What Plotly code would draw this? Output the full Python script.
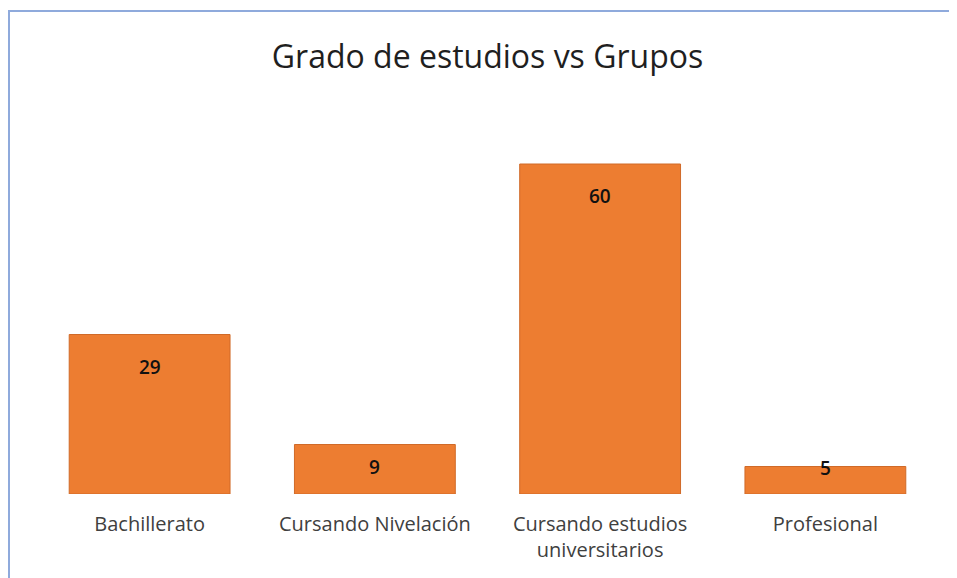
import plotly.graph_objects as go

# Datos del grafico
categorias = ["Bachillerato", "Cursando Nivelación", "Cursando estudios<br>universitarios", "Profesional"]
valores = [29, 9, 60, 5]

# la pagina tiene 8 px de margen en el body, se compensa aqui
W, H = 965, 578
ML, MR, MT, MB = 29, 35, 101, 92
pw, ph = W - ML - MR, H - MT - MB

# desplazamiento de las etiquetas de datos (px bajo el extremo de la barra)
desplaz = [-32, -22, -32, -1]

fig = go.Figure(go.Bar(
    x=categorias, y=valores,
    marker=dict(color="#ED7D31", line=dict(color="#D06A28", width=1)),
    hoverinfo="x+y",
))

for c, v, d in zip(categorias, valores, desplaz):
    fig.add_annotation(x=c, y=v, text=str(v), showarrow=False, yshift=d,
                       font=dict(family="Open Sans", size=19, weight=600, color="#111111"))

# borde del area del grafico (solo visible arriba y a la izquierda)
fig.add_shape(type="rect", xref="paper", yref="paper",
              x0=(1 - ML) / pw, x1=(W + 20 - ML) / pw,
              y0=-(MB + 20) / ph, y1=1 + (MT - 3) / ph,
              line=dict(color="#8FAADC", width=2), fillcolor="rgba(0,0,0,0)", layer="below")

fig.update_layout(
    width=W, height=H,
    margin=dict(l=ML, r=MR, t=MT, b=MB),
    paper_bgcolor="white", plot_bgcolor="white",
    bargap=0.286,
    showlegend=False,
    title=dict(text="Grado de estudios vs Grupos", x=0.5, xref="paper", xanchor="center",
               y=1 - 49 / H, yanchor="middle", yref="container",
               font=dict(family="Open Sans", size=32, color="#1f1f1f")),
    xaxis=dict(showgrid=False, zeroline=False, showline=False, ticks="",
               ticklabelstandoff=16,
               tickfont=dict(family="Open Sans", size=20, color="#404040")),
    yaxis=dict(range=[0, 70], visible=False),
)

fig.write_html("out.html")
